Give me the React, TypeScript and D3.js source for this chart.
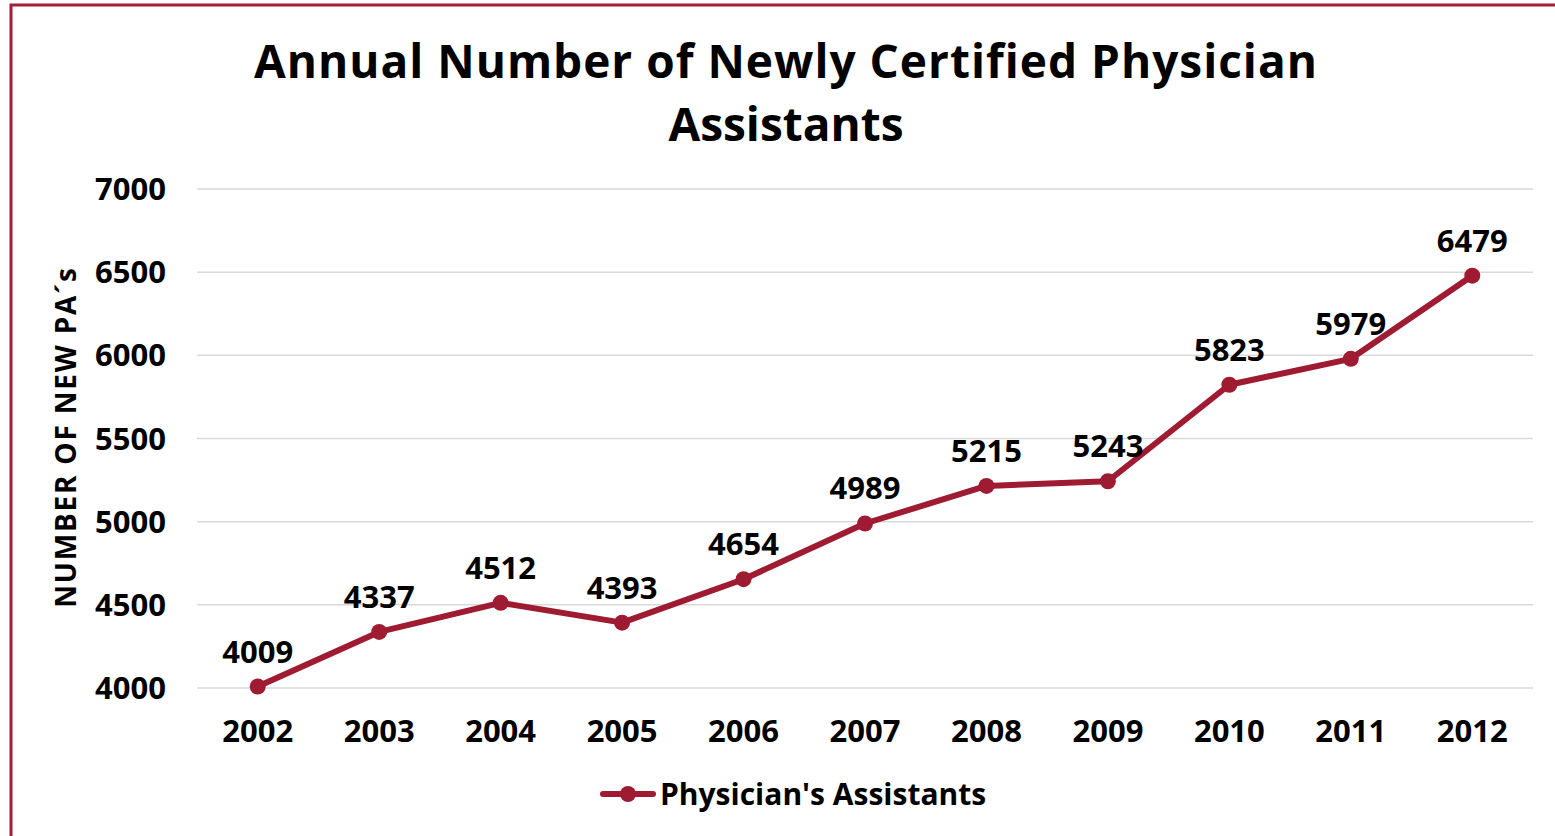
import React from "react";
import * as d3 from "d3";

const years = ["2002","2003","2004","2005","2006","2007","2008","2009","2010","2011","2012"];
const values = [4009,4337,4512,4393,4654,4989,5215,5243,5823,5979,6479];
const yTicks = [4000,4500,5000,5500,6000,6500,7000];
const titleLines = ["Annual Number of Newly Certified Physician","Assistants"];
const yTitle = "NUMBER OF NEW PA´s";
const seriesName = "Physician's Assistants";

const W = 1555, H = 836;
const RED = "#9e1b32";
const FONT = "'Open Sans', 'Noto Sans', sans-serif";

export default function App() {
  const x = d3.scalePoint<string>().domain(years).range([197, 1533]).padding(0.5);
  const y = d3.scaleLinear().domain([4000, 7000]).range([688, 189]);
  const line = d3.line<number>().x((_, i) => x(years[i])!).y((d) => y(d));
  return (
    <svg width={W} height={H} style={{ position: "absolute", left: 0, top: 0, background: "#fff" }} fontFamily={FONT} fontWeight={700}>
      <rect x={0} y={0} width={W} height={H} fill="#fff" />
      <rect x={11} y={5} width={W + 50} height={H + 50} fill="none" stroke="#a51d37" strokeWidth={3} />
      {titleLines.map((t, i) => (
        <text key={i} x={786} y={78 + i * 63} textAnchor="middle" fontSize={46} letterSpacing={i === 0 ? 1 : 0} fill="#000">{t}</text>
      ))}
      {yTicks.map((t) => (
        <g key={t}>
          <line x1={197} x2={1533} y1={y(t)} y2={y(t)} stroke="#d9d9d9" strokeWidth={1.5} />
          <text x={166} y={y(t)} dy="0.36em" textAnchor="end" fontSize={31} fill="#000">{t}</text>
        </g>
      ))}
      {years.map((yr) => (
        <text key={yr} x={x(yr)} y={742} textAnchor="middle" fontSize={31} fill="#000">{yr}</text>
      ))}
      <text transform={`translate(76,437) rotate(-90)`} textAnchor="middle" fontSize={28} letterSpacing={1.8} fill="#000">{yTitle}</text>
      <path d={line(values)!} fill="none" stroke={RED} strokeWidth={6} strokeLinejoin="round" />
      {values.map((v, i) => (
        <circle key={i} cx={x(years[i])} cy={y(v)} r={8} fill={RED} />
      ))}
      {values.map((v, i) => (
        <text key={"l" + i} x={x(years[i])} y={y(v) - 24} textAnchor="middle" fontSize={31} fill="#000">{v}</text>
      ))}
      <line x1={603} x2={653} y1={794} y2={794} stroke={RED} strokeWidth={6} strokeLinecap="round" />
      <circle cx={628} cy={794} r={8} fill={RED} />
      <text x={660} y={794} dy="0.36em" fontSize={30} fill="#000">{seriesName}</text>
    </svg>
  );
}
